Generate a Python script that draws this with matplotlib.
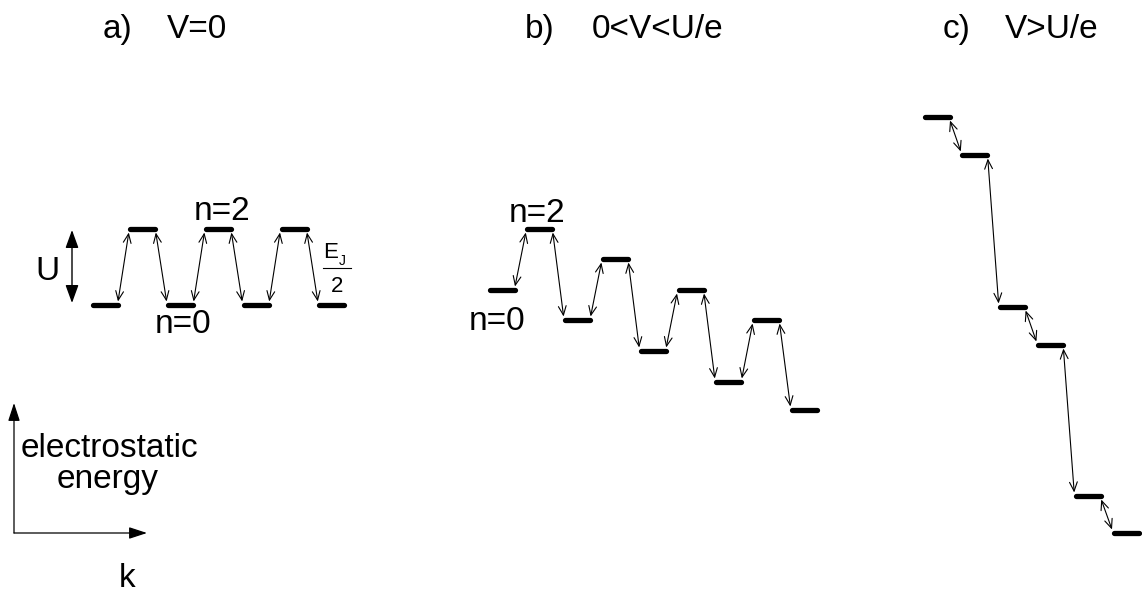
import matplotlib
matplotlib.use("Agg")
import matplotlib.pyplot as plt
from matplotlib.patches import FancyArrowPatch

plt.rcParams['font.family'] = ['Liberation Sans', 'DejaVu Sans']

W, H = 1142, 593

# Electrostatic energy of each charge state along the chain (arbitrary units, up = higher)
levels_a = [288, 364, 288, 364, 288, 364, 288]
levels_b = [303, 364, 273, 334, 242, 303, 211, 273, 183]
levels_c = [476, 438, 286, 248, 97, 60]

panel_titles = ["a)", "b)", "c)"]
panel_conditions = ["V=0", "0<V<U/e", "V>U/e"]

# layout (figure pixels)
panel_x0 = [90, 487, 922]
step = 37.8
level_w = 30

fig = plt.figure(figsize=(W / 100, H / 100), dpi=100)
ax = fig.add_axes([0, 0, 1, 1])
ax.set_xlim(0, W)
ax.set_ylim(0, H)
ax.axis('off')


def ypix(y_from_top):
    return H - y_from_top


def link(p, q, style, lw, hl, hw):
    a = FancyArrowPatch(p, q, arrowstyle=f"{style},head_length={hl},head_width={hw}",
                        mutation_scale=1, lw=lw, color='black',
                        shrinkA=0, shrinkB=0)
    ax.add_patch(a)


def draw_ladder(levels, x0):
    for k, e in enumerate(levels):
        xs = x0 + step * k
        ax.plot([xs + 2.5, xs + level_w - 2.5], [e, e], color='black', lw=3.8,
                solid_capstyle='round')
    for k in range(len(levels) - 1):
        e1, e2 = levels[k], levels[k + 1]
        xs = x0 + step * k
        d = 3.5 if e2 > e1 else -3.5
        link((xs + level_w - 2, e1 + d), (x0 + step * (k + 1) + 1, e2 - d),
             '<->', 0.8, 6.5, 2.8)


for lv, x0 in zip([levels_a, levels_b, levels_c], panel_x0):
    draw_ladder(lv, x0)

# panel headings
fs = 24
for lab, cond, xl, xc in zip(panel_titles, panel_conditions, [103, 525, 943], [167, 592, 1005]):
    ax.text(xl, ypix(38), lab, fontsize=fs, ha='left', va='baseline')
    ax.text(xc, ypix(38), cond, fontsize=fs, ha='left', va='baseline')

# charge-state labels
ax.text(222, ypix(220), "n=2", fontsize=fs, ha='center', va='baseline')
ax.text(183, ypix(333), "n=0", fontsize=fs, ha='center', va='baseline')
ax.text(537, ypix(222), "n=2", fontsize=fs, ha='center', va='baseline')
ax.text(497, ypix(330), "n=0", fontsize=fs, ha='center', va='baseline')

# charging energy U
link((72, levels_a[0] + 2), (72, levels_a[1] - 1), '<|-|>', 1.0, 11, 4)
ax.text(47, ypix(280), "U", fontsize=fs, ha='center', va='baseline')

# Josephson coupling E_J/2
ax.text(323, ypix(258), "E", fontsize=16, ha='left', va='baseline')
ax.text(339, ypix(265), "J", fontsize=10, ha='left', va='baseline')
ax.plot([323, 351], [ypix(268), ypix(268)], color='black', lw=0.8)
ax.text(337, ypix(292), "2", fontsize=16, ha='center', va='baseline')

# energy / site axes
link((14, ypix(533)), (14, ypix(403)), '-|>', 0.9, 11, 3.6)
link((14, ypix(533)), (147, ypix(533)), '-|>', 0.9, 11, 3.6)
ax.text(109, ypix(457), "electrostatic", fontsize=fs, ha='center', va='baseline')
ax.text(108, ypix(488), "energy", fontsize=fs, ha='center', va='baseline')
ax.text(127, ypix(587), "k", fontsize=fs, ha='center', va='baseline')

fig.savefig("out.png", dpi=100)
